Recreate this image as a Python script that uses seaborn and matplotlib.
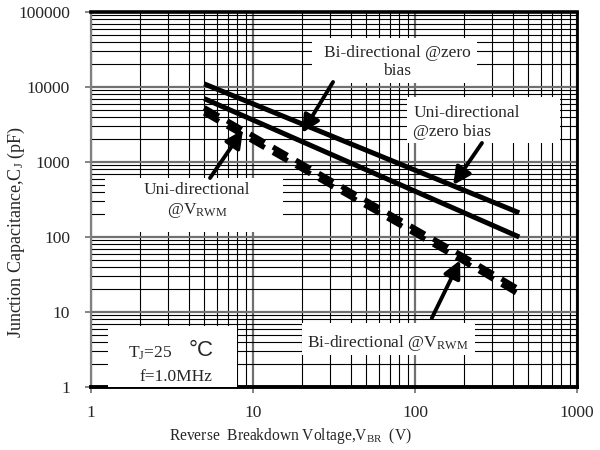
import numpy as np
import pandas as pd
import seaborn as sns
import matplotlib
matplotlib.use('Agg')
import matplotlib.pyplot as plt
from matplotlib.patches import Rectangle
from matplotlib.ticker import LogLocator, NullFormatter

# values
v_solid = [5, 440]
bi_zero = [11000, 210]        # Bi-directional @zero bias
uni_zero = [7000, 100]        # Uni-directional @zero bias
v_dash = [5, 200, 440]
uni_vrwm = [5300, 55, 20]     # Uni-directional @VRWM
bi_vrwm = [4500, 47, 17]      # Bi-directional @VRWM

x_ticks = [1, 10, 100, 1000]
y_ticks = [1, 10, 100, 1000, 10000, 100000]

sns.set_style('white')
plt.rcParams['font.family'] = ['Liberation Serif', 'DejaVu Serif']
plt.rcParams['mathtext.fontset'] = 'custom'
plt.rcParams['mathtext.rm'] = 'Liberation Serif'
plt.rcParams['mathtext.it'] = 'Liberation Serif:italic'

fig = plt.figure(figsize=(6, 4.5), dpi=100)
ax = fig.add_axes([91/600, 63/450, 486/600, 375/450])

solid = pd.DataFrame({'V': v_solid * 2,
                      'C': bi_zero + uni_zero,
                      'curve': ['bi_zero'] * 2 + ['uni_zero'] * 2})
dashed = pd.DataFrame({'V': v_dash * 2,
                       'C': uni_vrwm + bi_vrwm,
                       'curve': ['uni_vrwm'] * 3 + ['bi_vrwm'] * 3})

for name, d in solid.groupby('curve'):
    sns.lineplot(data=d, x='V', y='C', ax=ax, color='black', lw=3.6,
                 solid_capstyle='butt', zorder=5)
for name, d in dashed.groupby('curve'):
    sns.lineplot(data=d, x='V', y='C', ax=ax, color='black', lw=3.8,
                 linestyle=(0, (3.2, 1.8)), dash_capstyle='butt', zorder=5)

ax.set_xscale('log')
ax.set_yscale('log')
ax.set_xlim(1, 1000)
ax.set_ylim(1, 100000)
ax.set_xticks(x_ticks, [str(t) for t in x_ticks])
ax.set_yticks(y_ticks, [str(t) for t in y_ticks])
ax.xaxis.set_minor_locator(LogLocator(base=10, subs=range(2, 10), numticks=20))
ax.yaxis.set_minor_locator(LogLocator(base=10, subs=range(2, 10), numticks=20))
ax.xaxis.set_minor_formatter(NullFormatter())
ax.yaxis.set_minor_formatter(NullFormatter())
ax.grid(which='major', color='#707070', lw=1.6)
ax.grid(which='minor', color='black', lw=0.8)
ax.tick_params(which='major', length=4, width=1.2, color='#707070',
               labelsize=12.5, left=True, bottom=True)
ax.tick_params(axis='x', pad=9)
ax.tick_params(axis='y', pad=11)
ax.tick_params(which='minor', length=0)

for s in ['top', 'bottom', 'right']:
    ax.spines[s].set_color('black')
ax.spines['top'].set_linewidth(2.6)
ax.spines['bottom'].set_linewidth(2.8)
ax.spines['right'].set_linewidth(2.0)
ax.spines['left'].set_color('#808080')
ax.spines['left'].set_linewidth(1.6)

ax.set_xlabel('Reverse  Breakdown Voltage,V$_{\\rm BR}$  (V)', fontsize=11.2)
ax.set_ylabel('Junction Capacitance,C$_{\\rm J}$ (pF)', fontsize=13)
ax.xaxis.set_label_coords(0.41, -0.105)
ax.yaxis.set_label_coords(-0.132, 0.413)

# white label boxes (axes fraction)
boxes = [(0.455, 0.811, 0.339, 0.120),
         (0.650, 0.651, 0.315, 0.122),
         (0.029, 0.413, 0.366, 0.144),
         (0.035, 0.0, 0.265, 0.163),
         (0.434, 0.085, 0.356, 0.086)]
for x0, y0, w, h in boxes:
    ax.add_patch(Rectangle((x0, y0), w, h, transform=ax.transAxes,
                           facecolor='white', edgecolor='none', zorder=3))

fs = 12.5
ax.text(0.630, 0.867, 'Bi-directional @zero\nbias', transform=ax.transAxes,
        ha='center', va='center', fontsize=fs, linespacing=1.2, zorder=4)
ax.text(0.663, 0.705, 'Uni-directional\n@zero bias', transform=ax.transAxes,
        ha='left', va='center', fontsize=fs, linespacing=1.25, zorder=4)
ax.text(0.218, 0.496, 'Uni-directional\n@V$_{\\rm RWM}$', transform=ax.transAxes,
        ha='center', va='center', fontsize=fs, linespacing=1.3, zorder=4)
ax.text(0.121, 0.091, 'T$_{\\rm J}$=25', transform=ax.transAxes,
        ha='center', va='center', fontsize=fs, zorder=4)
ax.text(0.226, 0.097, '\u00b0C', transform=ax.transAxes, family=['Liberation Sans'],
        ha='center', va='center', fontsize=16, zorder=4)
ax.text(0.175, 0.027, 'f=1.0MHz', transform=ax.transAxes,
        ha='center', va='center', fontsize=fs, zorder=4)
ax.text(0.611, 0.117, 'Bi-directional @V$_{\\rm RWM}$', transform=ax.transAxes,
        ha='center', va='center', fontsize=fs, zorder=4)

# arrows (data coords: tail -> head)
arrows = [((31.2, 11660), (20.1, 2440)),
          ((259, 1792), (172, 493)),
          ((5.43, 612), (8.67, 2670)),
          ((127, 8.3), (190, 49))]
for tail, head in arrows:
    ax.annotate('', xy=head, xytext=tail,
                arrowprops=dict(arrowstyle='-|>', color='black', lw=2.8,
                                mutation_scale=26, shrinkA=0, shrinkB=0),
                zorder=6)

fig.savefig('out.png', dpi=100)
